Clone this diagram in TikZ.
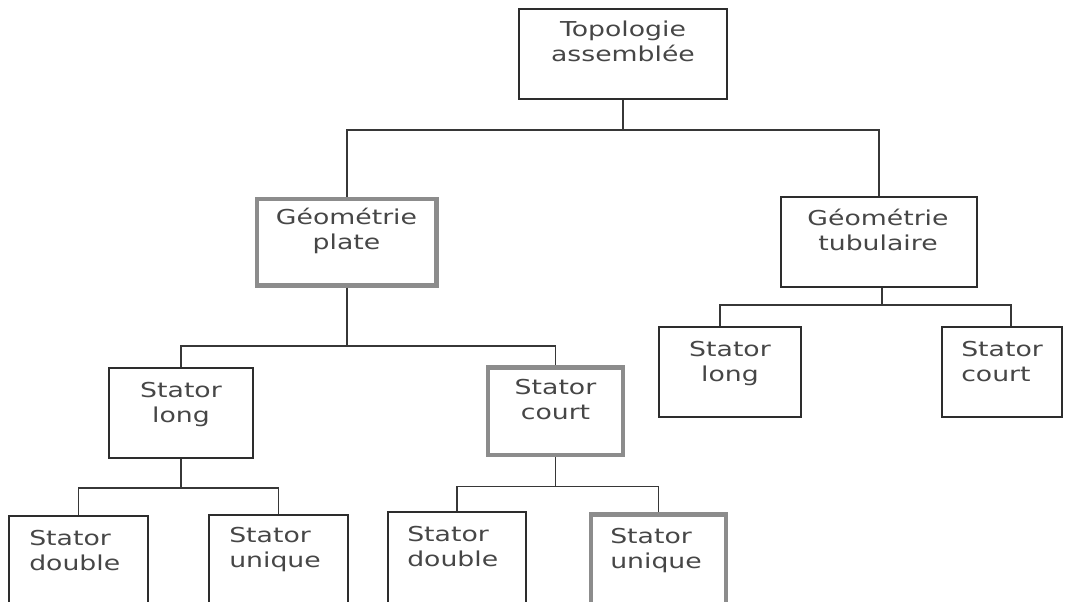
\documentclass[tikz,border=0pt]{standalone}
\usepackage{fontspec}
\usepackage{tikz}
\usetikzlibrary{fit}
\newfontfamily\boxfont[FakeStretch=1.3]{DejaVu Sans}
\definecolor{boxline}{RGB}{45,45,45}
\definecolor{boxthick}{RGB}{140,140,140}
\definecolor{wiregray}{RGB}{55,55,55}
\definecolor{textgray}{RGB}{70,70,70}
\tikzset{
  box/.style={draw=boxline, line width=1.1pt, inner sep=0pt},
  boxsel/.style={draw=boxthick, line width=3.6pt, inner sep=0pt},
  wire/.style={draw=wiregray, line width=1.2pt},
  txt/.style={font=\boxfont\fontsize{15.4}{18.75}\selectfont, text=textgray, inner sep=0pt, anchor=base},
}
\begin{document}
\begin{tikzpicture}[x=0.75pt,y=0.75pt,yscale=-1,xscale=1]
	\useasboundingbox (0,0) rectangle (1071,602);
	\clip (0,0) rectangle (1071,602);

	%Shape: Rectangle
	\node [box, fit={(519,9) (727,99)}] (topo) {};
	\node [boxsel, fit={(257,199) (436.5,285.5)}] (plate) {};
	\node [box, fit={(781,197) (977,287)}] (tubu) {};
	\node [box, fit={(109,368) (253,458)}] (plong) {};
	\node [boxsel, fit={(488,367.5) (623,455)}] (pcourt) {};
	\node [box, fit={(659,327) (801,417)}] (tlong) {};
	\node [box, fit={(942,327) (1062,417)}] (tcourt) {};
	\node [box, fit={(9,516) (148,620)}] (ldouble) {};
	\node [box, fit={(209,515) (348,620)}] (lunique) {};
	\node [box, fit={(388,512) (526,620)}] (cdouble) {};
	\node [boxsel, fit={(591,514.5) (726,620)}] (cunique) {};

	%Straight Lines
	\draw [wire] (topo.south) -- ++(0,30) -| (plate.north);
	\draw [wire] (topo.south) -- ++(0,30) -| (tubu.north);
	\draw [wire] (plate.south) |- ++(0,58) -| (plong.north);
	\draw [wire] (plate.south) -- ++(0,58) -| (pcourt.north);
	\draw [wire] ([xshift=2.25pt]tubu.south) -- ++(0,17) -| ([xshift=-7.5pt]tlong.north);
	\draw [wire] ([xshift=2.25pt]tubu.south) -- ++(0,17) -| ([xshift=6.75pt]tcourt.north);
	\draw [wire] (plong.south) -- ++(0,29) -| (ldouble.north);
	\draw [wire] (plong.south) -- ++(0,29) -| (lunique.north);
	\draw [wire] (pcourt.south) -- ++(0,29) -| (cdouble.north);
	\draw [wire] (pcourt.south) -- ++(0,29) -| (cunique.north);

	% Text Node
	\node [txt, align=center] (topo-t) at (623,62) {Topologie\\assemblée};
	% Text Node
	\node [txt, align=center] (plate-t) at (346.5,250) {Géométrie\\plate};
	% Text Node
	\node [txt, align=center] (tubu-t) at (878,251) {Géométrie\\tubulaire};
	% Text Node
	\node [txt, align=center] (plong-t) at (181,422) {Stator\\long};
	% Text Node
	\node [txt, align=center] (pcourt-t) at (555.5,419) {Stator\\court};
	% Text Node
	\node [txt, align=center] (tlong-t) at (730,381) {Stator\\long};
	% Text Node
	\node [txt, align=left, anchor=base west] (tcourt-t) at (961,381) {Stator\\court};
	% Text Node
	\node [txt, align=left, anchor=base west] (ldouble-t) at (29,570) {Stator\\double};
	% Text Node
	\node [txt, align=left, anchor=base west] (lunique-t) at (229,567) {Stator\\unique};
	% Text Node
	\node [txt, align=left, anchor=base west] (cdouble-t) at (407,566) {Stator\\double};
	% Text Node
	\node [txt, align=left, anchor=base west] (cunique-t) at (610,568) {Stator\\unique};

\end{tikzpicture}
\end{document}
